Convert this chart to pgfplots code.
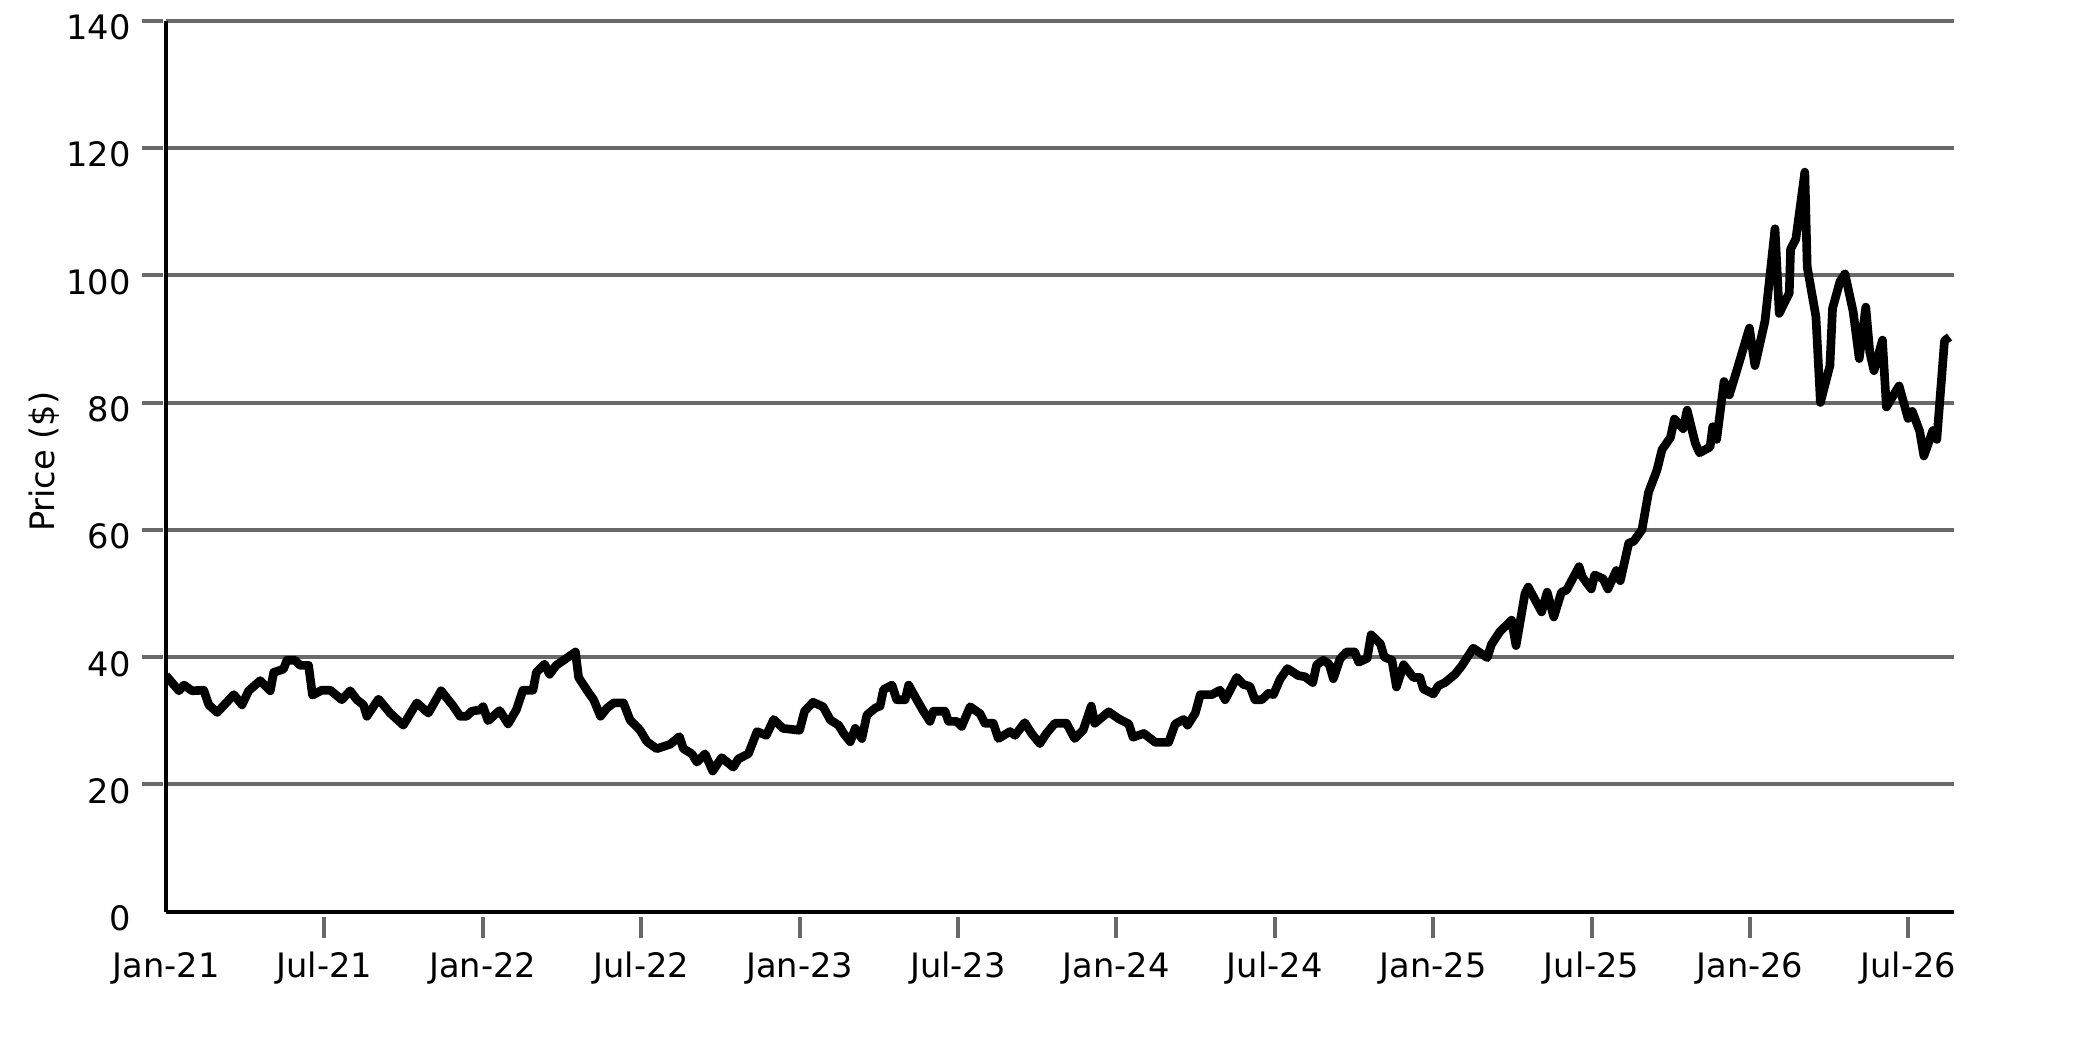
\documentclass[border=0pt]{standalone}
\usepackage{fontspec}
\setmainfont{DejaVu Sans}
\usepackage{pgfplots}
\pgfplotsset{compat=1.18}
\definecolor{gridgray}{RGB}{105,105,105}
\pgfplotstableread{
m v
0.00 37.1
0.49 34.7
0.68 35.6
0.99 34.7
1.43 34.8
1.62 32.5
1.94 31.3
2.57 34.1
2.88 32.5
3.13 34.7
3.57 36.3
3.95 34.7
4.08 37.6
4.45 38.1
4.58 39.5
4.89 39.5
5.08 38.7
5.40 38.7
5.55 34.0
5.90 34.8
6.22 34.8
6.66 33.3
6.98 34.7
7.23 33.3
7.48 32.5
7.61 30.7
8.05 33.4
8.49 31.2
8.99 29.3
9.50 32.8
9.94 31.2
10.42 34.7
10.88 32.3
11.14 30.7
11.39 30.7
11.58 31.5
11.90 31.7
12.01 32.2
12.20 30.0
12.64 31.6
12.96 29.5
13.27 31.7
13.52 34.8
13.90 34.8
14.03 37.6
14.34 38.9
14.53 37.3
14.78 38.7
15.06 39.5
15.51 40.8
15.63 36.8
16.01 34.4
16.20 33.3
16.46 30.7
16.71 32.0
16.96 32.8
17.33 32.8
17.58 30.1
17.96 28.5
18.22 26.7
18.59 25.6
19.10 26.3
19.45 27.5
19.60 25.6
19.92 24.8
20.11 23.5
20.42 24.8
20.71 22.1
21.05 24.2
21.49 22.7
21.68 24.0
22.06 24.8
22.39 28.3
22.74 27.7
23.02 30.2
23.37 28.8
24.00 28.5
24.19 31.5
24.51 32.9
24.89 32.2
25.17 30.1
25.48 29.3
25.67 28.0
25.92 26.7
26.11 28.8
26.36 27.2
26.55 30.9
26.87 32.0
27.05 32.3
27.18 34.9
27.50 35.6
27.68 33.3
28.00 33.3
28.13 35.6
28.44 33.3
28.69 31.5
28.94 29.9
29.07 31.5
29.51 31.5
29.64 29.9
29.95 29.9
30.14 29.1
30.46 32.2
30.84 31.1
31.02 29.6
31.34 29.6
31.53 27.2
31.97 28.3
32.16 27.7
32.53 29.7
32.79 28.0
33.10 26.4
33.35 28.0
33.67 29.6
34.11 29.6
34.42 27.2
34.74 28.5
35.05 32.3
35.18 29.6
35.71 31.4
36.09 30.3
36.47 29.5
36.63 27.4
37.04 28.0
37.48 26.6
37.98 26.6
38.23 29.5
38.55 30.2
38.70 29.3
38.99 31.2
39.18 34.1
39.62 34.1
39.93 34.8
40.12 33.3
40.56 36.8
40.81 35.7
41.06 35.4
41.25 33.3
41.51 33.3
41.76 34.3
41.95 34.1
42.20 36.5
42.48 38.2
42.89 37.1
43.15 36.9
43.44 36.0
43.59 38.8
43.84 39.5
44.06 38.9
44.22 36.6
44.47 39.7
44.72 40.8
45.03 40.8
45.18 39.2
45.50 39.8
45.65 43.5
46.00 42.1
46.15 40.0
46.44 39.5
46.61 35.3
46.88 38.8
47.25 36.8
47.50 36.8
47.63 35.0
48.01 34.2
48.20 35.5
48.45 36.0
48.83 37.3
49.08 38.6
49.52 41.4
50.05 39.9
50.21 42.0
50.53 44.0
50.97 45.8
51.14 41.8
51.48 50.0
51.60 51.0
52.11 47.1
52.32 50.2
52.57 46.3
52.86 50.2
53.05 50.5
53.53 54.2
53.65 52.6
53.99 50.7
54.12 52.9
54.44 52.3
54.62 50.7
54.94 53.6
55.09 52.0
55.41 57.9
55.60 58.2
55.91 60.0
56.16 65.9
56.48 69.4
56.67 72.6
56.99 74.5
57.14 77.4
57.47 75.9
57.62 78.8
57.93 73.6
58.09 72.1
58.49 73.0
58.59 76.2
58.74 74.2
59.02 83.3
59.22 81.2
59.50 85.0
59.98 91.7
60.19 85.8
60.44 90.4
60.57 92.8
60.95 107.3
61.11 94.0
61.49 97.2
61.54 104.1
61.74 105.7
62.08 116.2
62.17 101.3
62.50 93.5
62.67 80.0
63.03 85.8
63.13 94.8
63.41 99.0
63.60 100.2
63.91 94.3
64.14 86.9
64.39 95.0
64.54 87.9
64.70 85.0
65.02 89.8
65.17 79.3
65.65 82.6
65.99 77.5
66.15 78.6
66.43 75.5
66.59 71.6
66.93 75.6
67.08 74.2
67.37 89.7
67.56 90.3
}\pricedata
\begin{document}
\begin{tikzpicture}
\useasboundingbox (0,0) rectangle (624.9pt,312.6pt);
\begin{axis}[
  at={(49.8pt,39.1pt)}, anchor=south west,
  scale only axis, width=536.4pt, height=267.3pt,
  xmin=0, xmax=67.73, ymin=0, ymax=140,
  axis x line*=bottom, axis y line*=left,
  axis line style={black, line width=1.25pt, -},
  tick align=outside,
  major tick length=6.2pt,
  xtick={6,12,...,66},
  xticklabels={Jul-21,Jan-22,Jul-22,Jan-23,Jul-23,Jan-24,Jul-24,Jan-25,Jul-25,Jan-26,Jul-26},
  ytick={20,40,...,140},
  extra x ticks={0}, extra x tick labels={Jan-21},
  extra x tick style={grid=none, tick style={draw=none}},
  extra y ticks={0}, extra y tick labels={0},
  extra y tick style={grid=none, tick style={draw=none}},
  xtick style={gridgray, line width=1.2pt, yshift=-1.6pt},
  ytick style={gridgray, line width=1.2pt, xshift=-0.9pt},
  ymajorgrids,
  major grid style={gridgray, line width=1.2pt},
  /pgf/number format/assume math mode=true,
  ticklabel style={font=\fontsize{10.1}{12}\selectfont, black},
  xticklabel style={yshift=-2.4pt},
  yticklabel style={xshift=-0.9pt, yshift=-2pt},
  ylabel={Price (\$)},
  every axis y label/.style={at={(axis description cs:-0.0682,0.505)}, rotate=90, anchor=center, font=\fontsize{10.1}{12}\selectfont},
]
\addplot[black, line width=2.6pt, line join=round, mark=none] table[x=m, y=v] {\pricedata};
\end{axis}
\end{tikzpicture}
\end{document}
